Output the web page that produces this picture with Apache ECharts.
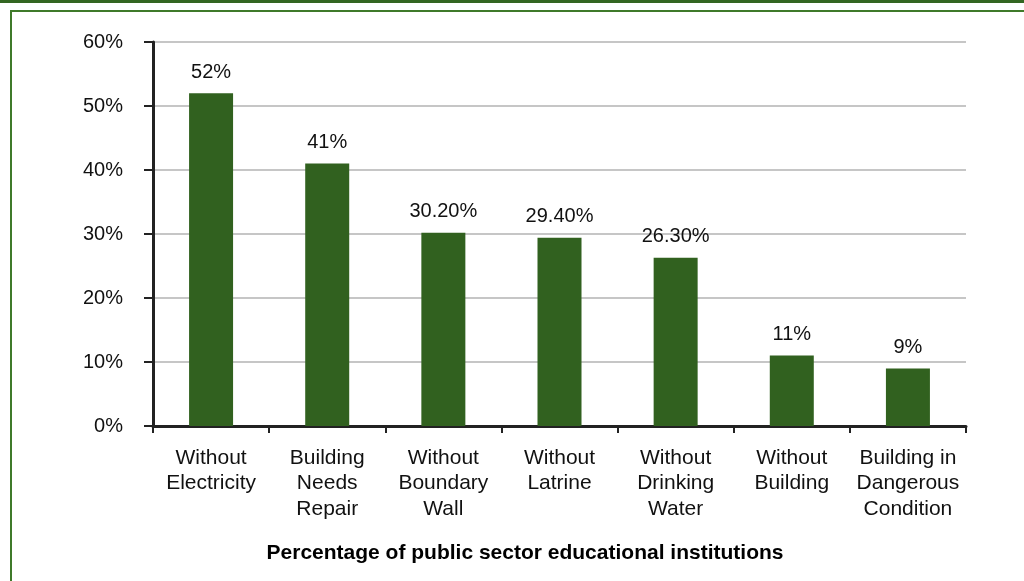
<!DOCTYPE html>
<html>
<head>
<meta charset="utf-8">
<script src="https://cdn.jsdelivr.net/npm/echarts@6/dist/echarts.min.js"></script>
<style>html,body{margin:0;padding:0;background:#fff}#c{width:1024px;height:581px}</style>
</head>
<body>
<div id="c"></div>
<script>
const categories = ["Without\nElectricity", "Building\nNeeds\nRepair", "Without\nBoundary\nWall", "Without\nLatrine", "Without\nDrinking\nWater", "Without\nBuilding", "Building in\nDangerous\nCondition"];
const values = [52, 41, 30.2, 29.4, 26.3, 11, 9];
const valueLabels = ["52%", "41%", "30.20%", "29.40%", "26.30%", "11%", "9%"];
const axisTitle = "Percentage of public sector educational institutions";

const FONT = "'Liberation Sans', Arial, Helvetica, sans-serif";
const chart = echarts.init(document.getElementById('c'), null, {renderer: 'canvas'});
chart.setOption({
  animation: false,
  backgroundColor: '#fff',
  textStyle: {fontFamily: FONT},
  graphic: [
    {type: 'rect', shape: {x: 0, y: 0, width: 1024, height: 3}, style: {fill: '#336622'}, z: 100},
    {type: 'rect', shape: {x: 11, y: 11, width: 1100, height: 700}, style: {fill: 'none', stroke: '#3f7a2a', lineWidth: 2}, z: 100},
    {type: 'text', x: 525, y: 553, style: {text: axisTitle, fontSize: 21, fontWeight: 'bold', fill: '#000', fontFamily: FONT, textAlign: 'center', textVerticalAlign: 'middle'}, z: 100}
  ],
  grid: {left: 153, right: 58, top: 42, bottom: 155, containLabel: false},
  xAxis: {
    type: 'category',
    data: categories,
    axisLine: {lineStyle: {color: '#222', width: 3}},
    axisTick: {show: true, length: 7, lineStyle: {color: '#222', width: 2}},
    axisLabel: {interval: 0, fontSize: 21, lineHeight: 25.5, color: '#111', margin: 19, fontFamily: FONT},
  },
  yAxis: {
    type: 'value',
    min: 0, max: 60, interval: 10,
    axisLine: {show: true, lineStyle: {color: '#222', width: 3}},
    axisTick: {show: true, length: 9, lineStyle: {color: '#222', width: 2}},
    axisLabel: {formatter: '{value}%', fontSize: 20, color: '#111', margin: 30, fontFamily: FONT},
    splitLine: {lineStyle: {color: '#c6c6c6', width: 2}}
  },
  series: [{
    type: 'bar',
    data: values,
    barWidth: 44,
    itemStyle: {color: '#31611f'},
    label: {
      show: true, position: 'top', distance: 11,
      fontSize: 20, color: '#111', fontFamily: FONT,
      formatter: p => valueLabels[p.dataIndex]
    }
  }]
});
</script>
</body>
</html>
